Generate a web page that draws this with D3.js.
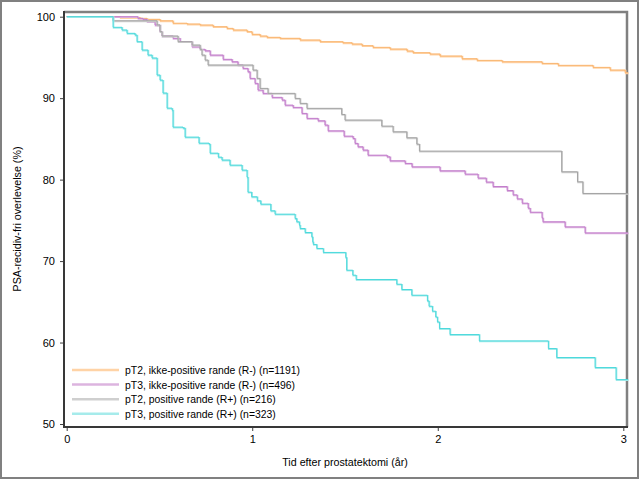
<!DOCTYPE html>
<html lang="da">
<head>
    <meta charset="UTF-8">
    <title>PSA-recidiv-fri overlevelse</title>
    <script src="https://d3js.org/d3.v7.min.js"></script>
    <style>
        body {
            margin: 0;
            background-color: #ffffff;
        }
        svg text {
            font-family: "Liberation Sans", Arial, sans-serif;
            fill: #000000;
        }
        .tick text {
            font-size: 11px;
        }
    </style>
</head>
<body>
    <svg id="km-chart"></svg>

    <script>
        // Kaplan-Meier trin: [tid i år, overlevelse %]
        const seriesNames = [
            "pT2, ikke-positive rande (R-) (n=1191)",
            "pT3, ikke-positive rande (R-) (n=496)",
            "pT2, positive rande (R+) (n=216)",
            "pT3, positive rande (R+) (n=323)"
        ];

        const pT2Rminus = [
            [0, 100], [0.288, 99.9], [0.395, 99.8], [0.433, 99.68], [0.503, 99.5], [0.573, 99.2],
            [0.649, 99.1], [0.719, 98.98], [0.789, 98.77], [0.864, 98.57], [0.897, 98.37],
            [0.972, 98.16], [0.999, 97.84], [1.042, 97.63], [1.080, 97.47], [1.150, 97.35],
            [1.258, 97.14], [1.366, 96.93], [1.489, 96.8], [1.538, 96.65], [1.592, 96.44],
            [1.651, 96.24], [1.743, 96.03], [1.834, 95.79], [1.867, 95.58], [1.958, 95.42],
            [2.012, 95.17], [2.131, 94.84], [2.212, 94.64], [2.347, 94.47], [2.562, 94.27],
            [2.649, 94.03], [2.837, 93.78], [2.929, 93.45], [3.010, 93.12], [3.026, 93.12]
        ];

        const pT3Rminus = [
            [0, 100], [0.384, 99.8], [0.411, 99.68], [0.433, 99.4], [0.476, 98.98], [0.503, 98.16],
            [0.514, 97.63], [0.573, 97.35], [0.611, 96.93], [0.676, 96.31], [0.719, 96.0],
            [0.746, 95.82], [0.773, 95.29], [0.843, 94.77], [0.891, 94.47], [0.923, 94.07],
            [0.950, 93.66], [0.977, 93.24], [0.988, 92.43], [1.015, 91.82], [1.031, 91.0],
            [1.058, 90.59], [1.107, 90.1], [1.161, 89.77], [1.177, 89.15], [1.220, 88.87],
            [1.268, 88.13], [1.295, 87.52], [1.355, 87.22], [1.392, 86.7], [1.409, 85.99],
            [1.495, 85.34], [1.543, 85.06], [1.554, 84.45], [1.570, 84.03], [1.597, 83.63],
            [1.624, 83.0], [1.727, 82.8], [1.743, 82.31], [1.824, 81.99], [1.861, 81.57],
            [2.012, 81.08], [2.147, 80.68], [2.217, 80.19], [2.261, 79.70], [2.298, 79.15],
            [2.374, 78.66], [2.406, 78.13], [2.428, 77.64], [2.455, 77.11], [2.487, 76.5],
            [2.498, 76.0], [2.562, 75.31], [2.567, 74.82], [2.686, 74.2], [2.794, 73.46],
            [3.026, 73.46]
        ];

        const pT2Rplus = [
            [0, 100], [0.25, 99.5], [0.487, 98.98], [0.503, 98.16], [0.514, 97.63], [0.600, 96.93],
            [0.676, 96.52], [0.719, 96.0], [0.729, 95.29], [0.746, 94.68], [0.762, 94.07],
            [1.004, 93.45], [1.026, 92.43], [1.042, 91.2], [1.085, 90.59], [1.231, 89.97],
            [1.258, 89.36], [1.295, 88.75], [1.482, 88.0], [1.500, 87.31], [1.698, 86.57],
            [1.759, 85.87], [1.833, 85.14], [1.887, 84.36], [1.901, 83.5], [2.668, 80.96],
            [2.753, 79.73], [2.782, 78.3], [3.026, 78.3]
        ];

        const pT3Rplus = [
            [0, 100], [0.25, 98.7], [0.298, 98.37], [0.325, 97.96], [0.368, 97.75], [0.379, 96.93],
            [0.406, 95.91], [0.438, 95.29], [0.460, 94.93], [0.487, 92.84], [0.503, 92.22],
            [0.519, 90.63], [0.541, 88.78], [0.568, 88.54], [0.573, 86.45], [0.627, 86.33],
            [0.638, 85.22], [0.713, 84.48], [0.767, 84.36], [0.773, 83.25], [0.817, 82.76],
            [0.837, 82.40], [0.880, 81.78], [0.945, 81.17], [0.972, 80.31], [0.977, 78.46],
            [0.997, 77.89], [1.027, 77.40], [1.046, 76.99], [1.100, 76.17], [1.123, 75.76],
            [1.231, 75.23], [1.240, 74.82], [1.254, 74.41], [1.258, 74.00], [1.285, 73.51],
            [1.321, 72.97], [1.326, 72.36], [1.329, 72.04], [1.348, 71.55], [1.383, 71.06],
            [1.504, 70.44], [1.509, 68.88], [1.542, 68.27], [1.560, 67.74], [1.779, 67.16],
            [1.806, 66.51], [1.860, 65.81], [1.944, 65.11], [1.953, 64.46], [1.971, 63.85],
            [1.989, 63.14], [1.998, 62.53], [2.009, 61.72], [2.066, 60.98], [2.224, 60.20],
            [2.596, 59.26], [2.641, 58.16], [2.848, 56.93], [2.961, 55.45], [3.026, 55.45]
        ];

        const allSeries = [pT2Rminus, pT3Rminus, pT2Rplus, pT3Rplus];
        const xTicks = [0, 1, 2, 3];
        const yTicks = [50, 60, 70, 80, 90, 100];

        const lineColors = ["#f9b46e", "#c27ccb", "#a3a3a3", "#4bd9dc"];
        const paleColors = ["#ffd3a6", "#dcb4df", "#cfcfcf", "#a6ebeb"];

        const W = 641, H = 481;
        const plot = { left: 64, right: 627, top: 12, bottom: 427 };

        const svg = d3.select("#km-chart")
            .attr("width", W)
            .attr("height", H);

        // ydre ramme
        svg.append("rect")
            .attr("x", 1).attr("y", 1)
            .attr("width", 637).attr("height", 477)
            .attr("fill", "none")
            .attr("stroke", "#808080")
            .attr("stroke-width", 2);

        const x = d3.scaleLinear()
            .domain([0, 3])
            .range([66.7, 623.3]);

        const y = d3.scaleLinear()
            .domain([50, 100])
            .range([424, 16.7]);

        // plot-ramme: top og højre grå
        svg.append("path")
            .attr("d", `M${plot.left},${plot.top}H${plot.right}V${plot.bottom}`)
            .attr("fill", "none")
            .attr("stroke", "#808080")
            .attr("stroke-width", 2.5);

        const line = d3.line()
            .x(d => x(d[0]))
            .y(d => y(d[1]))
            .curve(d3.curveStepAfter);

        allSeries.forEach((s, i) => {
            svg.append("path")
                .datum(s)
                .attr("fill", "none")
                .attr("stroke", paleColors[i])
                .attr("stroke-width", 1.6)
                .attr("transform", "translate(0.5,0.6)")
                .attr("d", line);
            svg.append("path")
                .datum(s)
                .attr("fill", "none")
                .attr("stroke", lineColors[i])
                .attr("stroke-width", 1)
                .attr("d", line);
        });

        // akser
        const yAxis = svg.append("g")
            .attr("transform", `translate(${plot.left},0)`)
            .call(d3.axisLeft(y).tickValues(yTicks).tickSize(4).tickPadding(5).tickFormat(d3.format("d")));

        const xAxis = svg.append("g")
            .attr("transform", `translate(0,${plot.bottom})`)
            .call(d3.axisBottom(x).tickValues(xTicks).tickSize(4).tickPadding(4).tickFormat(d3.format("d")));

        [yAxis, xAxis].forEach(g => {
            g.select(".domain").remove();
            g.selectAll(".tick line").attr("stroke", "#404040").attr("stroke-width", 1);
        });

        svg.append("path")
            .attr("d", `M${plot.left},${plot.top - 1}V${plot.bottom}H${plot.right + 1}`)
            .attr("fill", "none")
            .attr("stroke", "#383838")
            .attr("stroke-width", 2);

        // aksetitler
        svg.append("text")
            .attr("x", 345)
            .attr("y", 466)
            .attr("text-anchor", "middle")
            .style("font-size", "10.7px")
            .text("Tid efter prostatektomi (år)");

        svg.append("text")
            .attr("transform", "translate(21,219) rotate(-90)")
            .attr("text-anchor", "middle")
            .style("font-size", "10.7px")
            .text("PSA-recidiv-fri overlevelse (%)");

        // forklaring
        const legend = svg.append("g");
        seriesNames.forEach((name, i) => {
            const ly = 370 + i * 14.6;
            legend.append("line")
                .attr("x1", 72).attr("x2", 119)
                .attr("y1", ly).attr("y2", ly)
                .attr("stroke", paleColors[i])
                .attr("stroke-width", 2.5);
            legend.append("text")
                .attr("x", 125)
                .attr("y", ly + 4)
                .style("font-size", "10.4px")
                .text(name);
        });
    </script>
</body>
</html>
